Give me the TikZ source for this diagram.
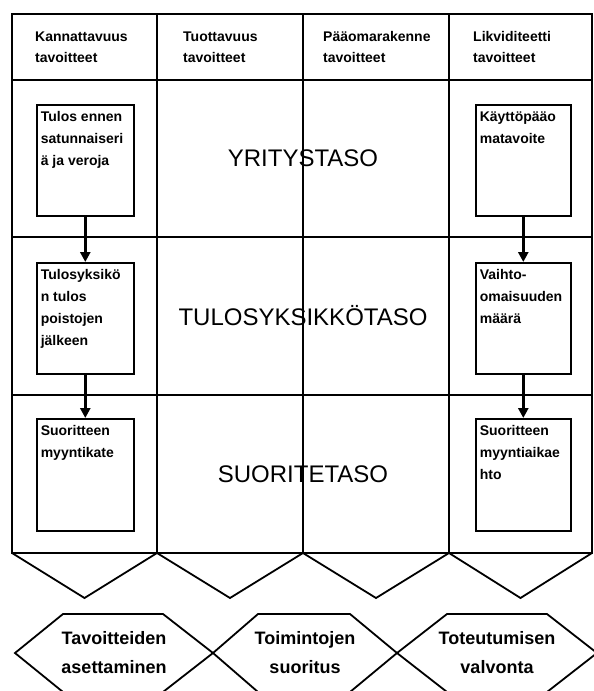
\documentclass[tikz,border=0pt]{standalone}
\usepackage{fontspec}
\setmainfont{Liberation Sans}
\usetikzlibrary{arrows.meta}

\begin{document}
\begin{tikzpicture}[x=1pt, y=-1pt, >={Triangle[length=10pt,width=10pt]},
	goal/.style={draw, line width=1.6pt, anchor=north west, inner xsep=4pt, inner ysep=7pt, font=\fontsize{14}{22}\selectfont\bfseries},
	head/.style={anchor=west, align=left, inner sep=0pt, font=\fontsize{14}{21}\selectfont\bfseries},
	level/.style={font=\fontsize{24}{28}\selectfont},
	phase/.style={align=center, inner sep=0pt, font=\fontsize{18}{29}\selectfont\bfseries}]
	\useasboundingbox (0,0) rectangle (594,691);
	
	% table
	\draw[line width=1.8pt] (12,14) rectangle (592,553);
	\foreach \y in {80,237,395}
		\draw[line width=1.8pt] (12,\y) -- (592,\y);
	\foreach \x in {157,303,449}
		\draw[line width=1.8pt] (\x,14) -- (\x,553);
	
	% headers
	\node[head] (kannattavuus) at (35,47) {Kannattavuus\\tavoitteet};
	\node[head] (tuottavuus) at (183,47) {Tuottavuus\\tavoitteet};
	\node[head] (paaoma) at (323,47) {Pääomarakenne\\tavoitteet};
	\node[head] (likviditeetti) at (473,47) {Likviditeetti\\tavoitteet};
	
	% levels
	\node[level] (yritys) at (303,158) {YRITYSTASO};
	\node[level] (tulosyksikko) at (303,316) {TULOSYKSIKKÖTASO};
	\node[level] (suorite) at (303,474) {SUORITETASO};
	
	% goal boxes
	\node[goal] (k1) at (36,104) {\parbox[t][97pt][t]{89pt}{Tulos ennen\\satunnaiseri\\ä ja veroja}};
	\node[goal] (k2) at (36,262) {\parbox[t][97pt][t]{89pt}{Tulosyksikö\\n tulos\\poistojen\\jälkeen}};
	\node[goal] (k3) at (36,418) {\parbox[t][98pt][t]{89pt}{Suoritteen\\myyntikate}};
	\node[goal] (l1) at (475,104) {\parbox[t][97pt][t]{87pt}{Käyttöpääo\\matavoite}};
	\node[goal] (l2) at (475,262) {\parbox[t][97pt][t]{87pt}{Vaihto-\\omaisuuden\\määrä}};
	\node[goal] (l3) at (475,418) {\parbox[t][98pt][t]{87pt}{Suoritteen\\myyntiaikae\\hto}};
	
	\draw[->,line width=3pt] (k1) -- (k2);
	\draw[->,line width=3pt] (k2) -- (k3);
	\draw[->,line width=3pt] (l1) -- (l2);
	\draw[->,line width=3pt] (l2) -- (l3);
	
	% chevrons
	\foreach \l/\r in {12/157,157/303,303/449,449/592}
		\draw[line width=1.8pt] (\l,553) -- ({(\l+\r)/2},598) -- (\r,553);
	
	% phases
	\foreach \a/\b/\c/\d in {15/63/163/213,213/258/350/397,397/447/547/597}
		\draw[line width=1.8pt] (\a,653) -- (\b,614) -- (\c,614) -- (\d,653) -- (\c,692) -- (\b,692) -- cycle;
	\node[phase] (asettaminen) at (114,653) {Tavoitteiden\\asettaminen};
	\node[phase] (suoritus) at (305,653) {Toimintojen\\suoritus};
	\node[phase] (valvonta) at (497,653) {Toteutumisen\\valvonta};
\end{tikzpicture}
\end{document}
